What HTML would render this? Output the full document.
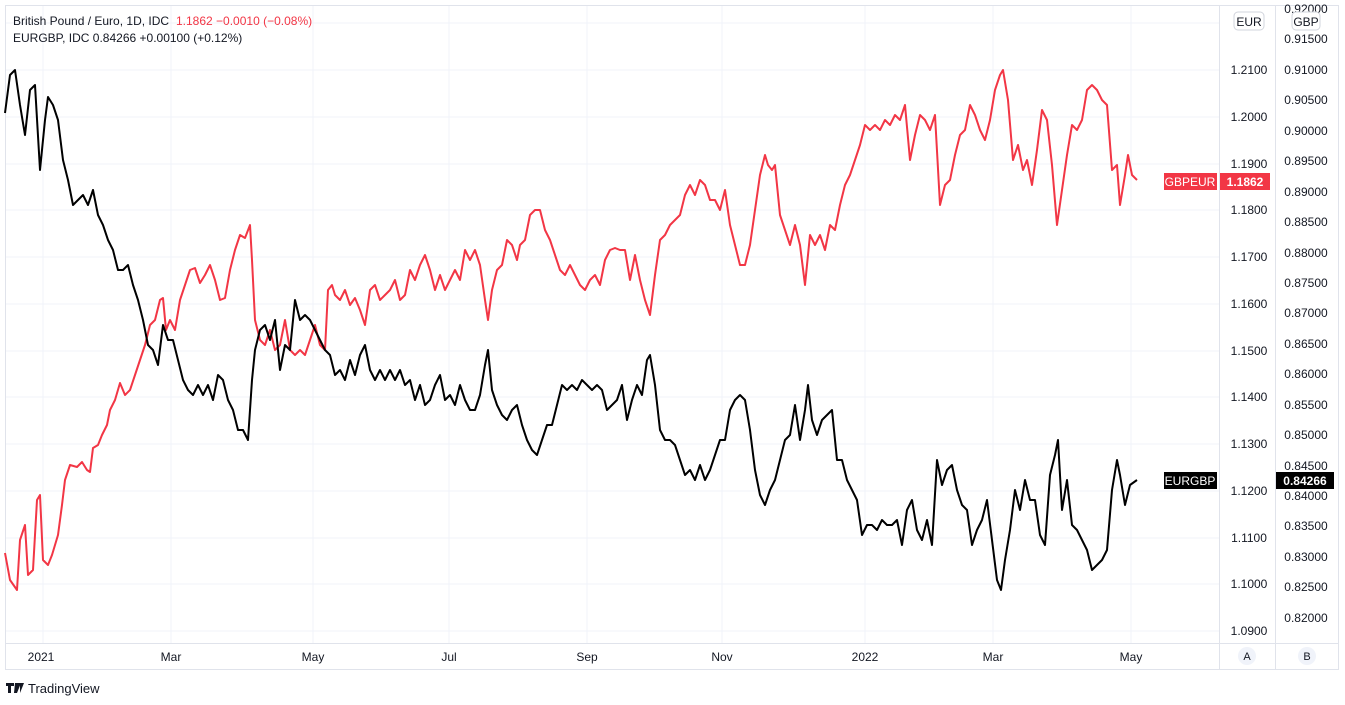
<!DOCTYPE html>
<html><head><meta charset="utf-8"><style>
body{margin:0;background:#fff;width:1345px;height:700px;overflow:hidden;font-family:"Liberation Sans",sans-serif}
</style></head><body>
<svg width="1345" height="700" xmlns="http://www.w3.org/2000/svg" font-family="Liberation Sans, sans-serif">
<rect x="0" y="0" width="1345" height="700" fill="#fff"/>
<g stroke="#f0f3fa" stroke-width="1">
<line x1="5" y1="23" x2="1219" y2="23"/><line x1="5" y1="70" x2="1219" y2="70"/><line x1="5" y1="117" x2="1219" y2="117"/><line x1="5" y1="164" x2="1219" y2="164"/><line x1="5" y1="210" x2="1219" y2="210"/><line x1="5" y1="257" x2="1219" y2="257"/><line x1="5" y1="304" x2="1219" y2="304"/><line x1="5" y1="351" x2="1219" y2="351"/><line x1="5" y1="397" x2="1219" y2="397"/><line x1="5" y1="444" x2="1219" y2="444"/><line x1="5" y1="491" x2="1219" y2="491"/><line x1="5" y1="538" x2="1219" y2="538"/><line x1="5" y1="584" x2="1219" y2="584"/><line x1="5" y1="631" x2="1219" y2="631"/>
<line x1="43" y1="5" x2="43" y2="643"/><line x1="171" y1="5" x2="171" y2="643"/><line x1="313" y1="5" x2="313" y2="643"/><line x1="449" y1="5" x2="449" y2="643"/><line x1="587" y1="5" x2="587" y2="643"/><line x1="722" y1="5" x2="722" y2="643"/><line x1="865" y1="5" x2="865" y2="643"/><line x1="993" y1="5" x2="993" y2="643"/><line x1="1131" y1="5" x2="1131" y2="643"/>
</g>
<g stroke="#e0e3eb" stroke-width="1" fill="none">
<rect x="5.5" y="5.5" width="1333" height="664"/>
<line x1="5" y1="643.5" x2="1338" y2="643.5"/>
<line x1="1219.5" y1="5" x2="1219.5" y2="670"/>
<line x1="1275.5" y1="5" x2="1275.5" y2="670"/>
</g>
<polyline fill="none" stroke="#f23645" stroke-width="2" stroke-linejoin="round" points="5,553 10,580 17,590 20,540 25,525 28,575 33,570 37,500 40,495 43,560 48,565 52,555 58,535 62,505 65,480 70,465 77,467 82,462 87,470 90,472 93,448 98,445 102,435 107,425 110,410 115,400 120,383 125,395 130,390 135,375 140,360 145,345 150,325 155,320 160,300 163,298 166,330 170,320 175,330 180,300 185,285 190,270 195,268 200,283 205,275 210,265 215,280 220,300 225,298 230,270 235,250 240,235 245,238 250,225 252,260 255,320 260,340 265,345 270,330 275,350 280,345 285,320 290,350 295,355 300,350 305,355 310,340 315,325 320,345 325,350 328,290 332,285 335,295 340,300 345,290 350,305 355,298 360,310 365,325 370,290 375,285 380,300 385,295 390,290 395,280 400,300 405,295 410,270 415,280 420,265 425,255 430,270 435,290 440,275 445,290 450,280 455,270 460,280 465,250 470,260 475,250 480,265 485,300 488,320 492,290 497,270 502,265 507,240 512,245 517,260 520,245 525,240 530,215 535,210 540,210 545,230 550,240 555,255 560,270 565,275 570,265 575,275 580,285 585,290 590,280 595,275 600,285 605,260 610,250 615,248 620,250 625,250 630,280 635,255 640,280 645,300 650,315 655,275 660,240 665,235 670,225 675,220 680,215 685,195 690,185 695,195 700,180 705,185 710,200 715,200 720,210 725,190 730,225 735,245 740,265 745,265 750,245 755,210 760,175 765,155 768,165 772,170 775,165 780,215 785,230 790,245 795,225 800,245 805,285 810,235 815,245 820,235 825,250 830,225 835,230 840,205 845,185 850,175 855,160 860,145 865,125 870,130 875,125 880,130 885,120 890,125 895,115 900,120 905,105 910,160 915,135 920,115 925,120 930,130 935,115 940,205 945,185 950,180 955,155 960,135 965,130 970,105 975,115 980,130 985,140 990,120 995,90 1000,75 1003,70 1008,100 1013,160 1018,145 1023,170 1027,160 1032,185 1037,150 1042,110 1047,120 1052,165 1057,225 1062,190 1067,155 1072,125 1077,130 1082,120 1087,90 1092,85 1097,90 1102,100 1107,105 1112,170 1117,165 1120,205 1125,175 1128,155 1132,175 1137,180"/>
<polyline fill="none" stroke="#000" stroke-width="2" stroke-linejoin="round" points="5,113 10,75 15,70 20,105 25,135 30,90 35,85 40,170 45,120 48,97 53,105 58,120 63,160 68,180 73,205 78,200 83,195 88,205 93,190 98,215 103,225 108,240 113,250 118,270 123,270 128,265 133,285 138,300 143,320 148,345 153,350 158,365 163,325 168,340 173,340 178,360 183,380 188,390 193,395 198,385 203,395 208,385 213,400 218,375 223,380 228,400 233,410 238,430 243,430 248,440 252,380 255,350 260,330 265,325 270,340 275,320 280,370 285,345 290,350 295,300 300,320 305,315 310,320 315,330 320,340 325,350 330,355 335,375 340,370 345,380 350,360 355,375 360,355 365,345 370,370 375,380 380,370 385,380 390,370 395,380 400,370 405,385 410,380 415,400 420,385 425,405 430,400 435,385 440,375 445,400 450,395 455,405 460,385 465,400 470,410 475,410 480,395 485,365 488,350 492,390 497,405 502,415 507,420 512,410 517,405 522,425 527,440 532,450 537,455 542,440 547,425 552,425 557,405 562,385 567,390 572,385 577,390 582,380 587,385 592,390 597,385 602,390 607,410 612,405 617,400 622,385 627,420 632,400 637,385 642,395 647,360 650,355 655,385 660,430 665,440 670,440 675,445 680,460 685,475 690,470 695,480 700,465 705,480 710,470 715,455 720,440 725,440 730,410 735,400 740,395 745,400 750,430 755,470 760,495 765,505 770,490 775,480 780,460 785,440 790,435 795,405 800,440 805,410 808,385 812,420 817,435 822,420 827,415 832,410 837,460 842,460 847,480 852,490 857,500 862,535 867,525 872,525 877,530 882,520 887,525 892,525 897,520 902,545 907,510 912,500 917,530 922,540 927,520 932,545 937,460 942,485 947,470 952,465 957,490 962,505 967,510 972,545 977,530 982,520 987,500 992,540 997,580 1001,590 1005,560 1010,530 1015,490 1020,510 1025,480 1030,500 1035,500 1040,535 1045,545 1050,475 1055,455 1058,440 1062,510 1067,480 1072,525 1077,530 1082,540 1087,550 1092,570 1097,565 1102,560 1107,550 1112,490 1117,460 1120,475 1125,505 1130,485 1137,480"/>
<g font-size="12" fill="#131722">
<text x="13" y="25">British Pound / Euro, 1D, IDC</text>
<text x="176" y="25" fill="#f23645">1.1862  −0.0010 (−0.08%)</text>
<text x="13" y="42">EURGBP, IDC  0.84266  +0.00100 (+0.12%)</text>
</g>
<g font-size="12" fill="#131722" text-anchor="middle">
<text x="1249" y="74">1.2100</text><text x="1249" y="121">1.2000</text><text x="1249" y="168">1.1900</text><text x="1249" y="261">1.1700</text><text x="1249" y="308">1.1600</text><text x="1249" y="355">1.1500</text><text x="1249" y="401">1.1400</text><text x="1249" y="448">1.1300</text><text x="1249" y="495">1.1200</text><text x="1249" y="542">1.1100</text><text x="1249" y="588">1.1000</text><text x="1249" y="635">1.0900</text><text x="1249" y="214">1.1800</text>
<text x="1306" y="13">0.92000</text><text x="1306" y="43">0.91500</text><text x="1306" y="74">0.91000</text><text x="1306" y="104">0.90500</text><text x="1306" y="135">0.90000</text><text x="1306" y="165">0.89500</text><text x="1306" y="196">0.89000</text><text x="1306" y="226">0.88500</text><text x="1306" y="257">0.88000</text><text x="1306" y="287">0.87500</text><text x="1306" y="317">0.87000</text><text x="1306" y="348">0.86500</text><text x="1306" y="378">0.86000</text><text x="1306" y="409">0.85500</text><text x="1306" y="439">0.85000</text><text x="1306" y="470">0.84500</text><text x="1306" y="500">0.84000</text><text x="1306" y="530">0.83500</text><text x="1306" y="561">0.83000</text><text x="1306" y="591">0.82500</text><text x="1306" y="622">0.82000</text>
</g>
<rect x="1234" y="12" width="30" height="18" rx="4" fill="#fff" stroke="#d1d4dc"/><text x="1249" y="26" font-size="12" text-anchor="middle" fill="#131722">EUR</text>
<rect x="1292" y="12" width="28" height="18" rx="4" fill="#fff" stroke="#d1d4dc"/><text x="1306" y="26" font-size="12" text-anchor="middle" fill="#131722">GBP</text>
<rect x="1164" y="173" width="53" height="17" fill="#f23645"/><text x="1190" y="186" font-size="12" fill="#fff" text-anchor="middle">GBPEUR</text>
<rect x="1220" y="173" width="50" height="17" fill="#f23645"/><text x="1245" y="186" font-size="12" font-weight="bold" fill="#fff" text-anchor="middle">1.1862</text>
<rect x="1164" y="472" width="53" height="17" fill="#000"/><text x="1190" y="485" font-size="12" fill="#fff" text-anchor="middle">EURGBP</text>
<rect x="1276" y="472" width="58" height="17" fill="#000"/><text x="1305" y="485" font-size="12" font-weight="bold" fill="#fff" text-anchor="middle">0.84266</text>
<g font-size="12" fill="#131722" text-anchor="middle">
<text x="41" y="661">2021</text><text x="171" y="661">Mar</text><text x="313" y="661">May</text><text x="449" y="661">Jul</text><text x="587" y="661">Sep</text><text x="722" y="661">Nov</text><text x="865" y="661">2022</text><text x="993" y="661">Mar</text><text x="1131" y="661">May</text>
</g>
<circle cx="1247" cy="656" r="9" fill="#f0f3fa"/><text x="1247" y="660" font-size="11" text-anchor="middle" fill="#131722">A</text>
<circle cx="1307" cy="656" r="9" fill="#f0f3fa"/><text x="1307" y="660" font-size="11" text-anchor="middle" fill="#131722">B</text>
<path d="M6,683h8v3h-3v7h-3v-7h-2z M15,683h6l-4,10h-3z M20,683h4l-4,10z" fill="#131722"/>
<text x="28" y="693" font-size="13" fill="#131722">TradingView</text>
</svg>
</body></html>
